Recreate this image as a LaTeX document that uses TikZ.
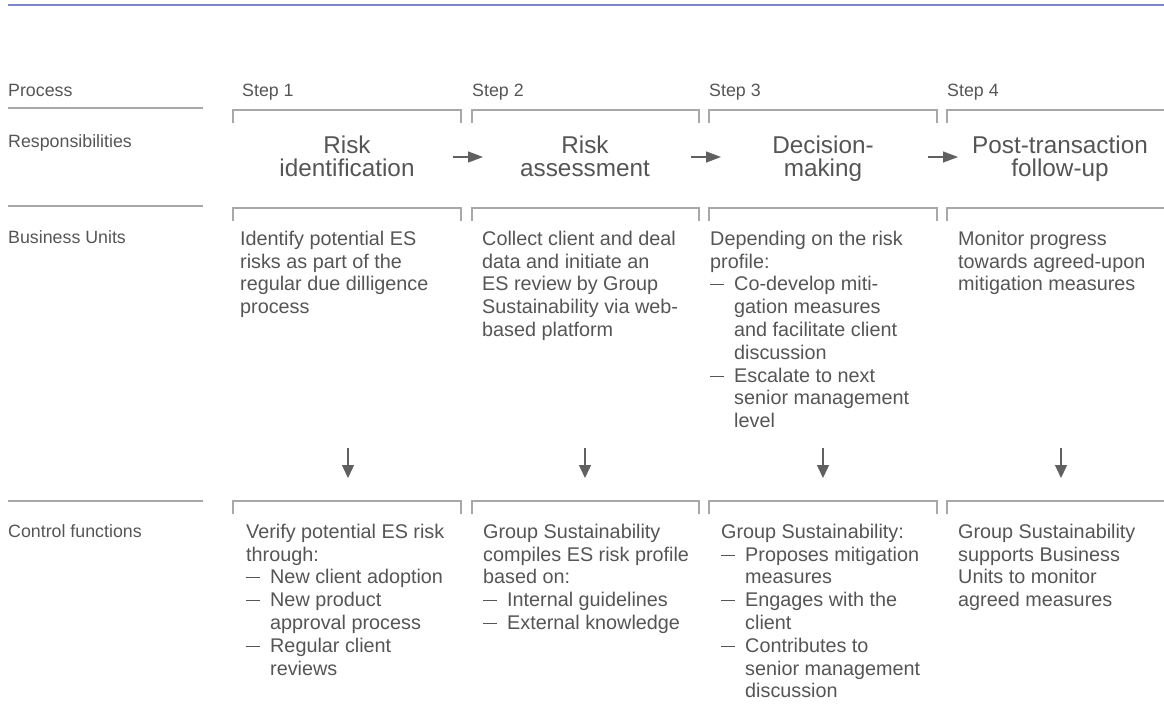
\documentclass[tikz,border=0pt]{standalone}
\usepackage{fontspec}
\setmainfont{Liberation Sans}
\usetikzlibrary{arrows.meta}
\definecolor{txt}{HTML}{555555}
\definecolor{rulegray}{HTML}{A8A8A8}
\definecolor{arr}{HTML}{606060}
\definecolor{topblue}{HTML}{7B85C8}
\newcommand\dashitem{\makebox[24pt][l]{\rule[5.5pt]{14pt}{1pt}}}
\newcommand\cont{\hspace*{24pt}}
\newcommand\fl{\rule{0pt}{16pt}}
\newcommand\fh{\rule{0pt}{20pt}}
\begin{document}
\begin{tikzpicture}[x=1pt,y=-1pt,
 lbl/.style={anchor=base west,inner sep=0pt,text=txt,font=\fontsize{17.8}{20}\selectfont},
 body/.style={anchor=north west,inner sep=0pt,text=txt,align=left,font=\fontsize{19.8}{22.8}\selectfont},
 head/.style={anchor=north,inner sep=0pt,text=txt,align=center,font=\fontsize{24.3}{23.5}\selectfont},
 bracket/.style={draw=rulegray,line width=1.3pt},
 sep/.style={draw=rulegray,line width=2pt},
 harrow/.style={draw=arr,line width=1.3pt,-{Triangle[length=15pt,width=11pt]}},
 varrow/.style={draw=arr,line width=1.3pt,-{Triangle[length=13pt,width=12pt]}}]
\useasboundingbox (0,0) rectangle (1164,724);
% top rule
\coordinate (tl) at (8,5); \coordinate (tr) at (1164,5);
\draw[draw=topblue,line width=2.2pt] (tl) -- (tr);
% left separators
\foreach \y/\n in {108/a,206/b,501/c}{
  \coordinate (sl\n) at (8,\y); \coordinate (sr\n) at (203,\y);
  \draw[sep] (sl\n) -- (sr\n);
}
% brackets
\foreach \y in {110,208,501}{
  \draw[bracket] (233,\y+13) -- (233,\y) -- (461,\y) -- (461,\y+13);
  \draw[bracket] (472,\y+13) -- (472,\y) -- (699,\y) -- (699,\y+13);
  \draw[bracket] (709,\y+13) -- (709,\y) -- (937,\y) -- (937,\y+13);
  \draw[bracket] (947,\y+13) -- (947,\y) -- (1164,\y);
}
% left labels
\node[lbl] (lp) at (8,96) {Process};
\node[lbl] (lr) at (8,147) {Responsibilities};
\node[lbl] (lb) at (8,243) {Business Units};
\node[lbl] (lc) at (8,537) {Control functions};
% steps
\node[lbl] (s1) at (242,96) {Step 1};
\node[lbl] (s2) at (472,96) {Step 2};
\node[lbl] (s3) at (709,96) {Step 3};
\node[lbl] (s4) at (947,96) {Step 4};
% headings
\node[head] (h1) at (347,133) {\fh Risk\\identification};
\node[head] (h2) at (585,133) {\fh Risk\\assessment};
\node[head] (h3) at (823,133) {\fh Decision-\\making};
\node[head] (h4) at (1060,133) {\fh Post-transaction\\follow-up};
% horizontal arrows
\coordinate (a1s) at (453,157); \coordinate (a1e) at (483,157);
\coordinate (a2s) at (691,157); \coordinate (a2e) at (721,157);
\coordinate (a3s) at (928,157); \coordinate (a3e) at (958,157);
\draw[harrow] (a1s) -- (a1e);
\draw[harrow] (a2s) -- (a2e);
\draw[harrow] (a3s) -- (a3e);
% business units texts
\node[body] (b1) at (240,229) {\fl Identify potential ES\\risks as part of the\\regular due dilligence\\process};
\node[body] (b2) at (482,229) {\fl Collect client and deal\\data and initiate an\\ES review by Group\\Sustainability via web-\\based platform};
\node[body] (b3) at (710,229) {\fl Depending on the risk\\profile:\\\dashitem Co-develop miti-\\\cont gation measures\\\cont and facilitate client\\\cont discussion\\\dashitem Escalate to next\\\cont senior management\\\cont level};
\node[body] (b4) at (958,229) {\fl Monitor progress\\towards agreed-upon\\mitigation measures};
% down arrows
\foreach \x/\n in {348/1,585/2,823/3,1061/4}{
  \coordinate (d\n s) at (\x,448); \coordinate (d\n e) at (\x,478);
  \draw[varrow] (d\n s) -- (d\n e);
}
% control texts
\node[body] (c1) at (246,522) {\fl Verify potential ES risk\\through:\\\dashitem New client adoption\\\dashitem New product\\\cont approval process\\\dashitem Regular client\\\cont reviews};
\node[body] (c2) at (483,522) {\fl Group Sustainability\\compiles ES risk profile\\based on:\\\dashitem Internal guidelines\\\dashitem External knowledge};
\node[body] (c3) at (721,522) {\fl Group Sustainability:\\\dashitem Proposes mitigation\\\cont measures\\\dashitem Engages with the\\\cont client\\\dashitem Contributes to\\\cont senior management\\\cont discussion};
\node[body] (c4) at (958,522) {\fl Group Sustainability\\supports Business\\Units to monitor\\agreed measures};
\end{tikzpicture}
\end{document}
